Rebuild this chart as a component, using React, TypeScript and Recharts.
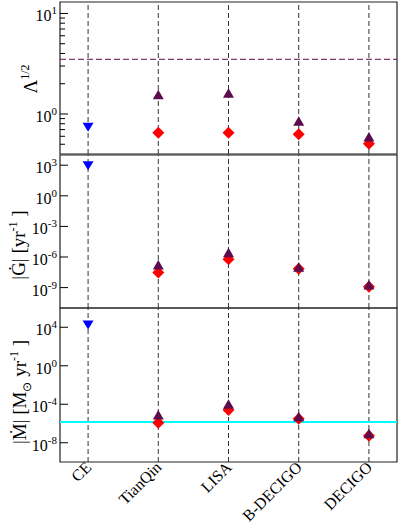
import type { ReactNode } from "react";
import {
	ScatterChart,
	Scatter,
	XAxis,
	YAxis,
	ReferenceLine,
	ReferenceArea,
} from "recharts";

const detectors = ["CE", "TianQin", "LISA", "B-DECIGO", "DECIGO"];

// Lambda^(1/2)
const lambdaCE = [0.74, null, null, null, null];
const lambdaTri = [null, 1.55, 1.61, 0.845, 0.59];
const lambdaDia = [null, 0.65, 0.65, 0.63, 0.505];
const lambdaBound = 3.5;
const lambdaTicks = [0.5, 0.6, 0.7, 0.8, 0.9, 1, 2, 3, 4, 5, 6, 7, 8, 9, 10];

// |Gdot| [yr^-1]
const gdotCE = [900, null, null, null, null];
const gdotTri = [null, 1.6e-7, 2.6e-6, 1.0e-7, 1.8e-9];
const gdotDia = [null, 3.0e-8, 6.0e-7, 7.0e-8, 1.2e-9];
const gdotTicks = [1e-9, 1e-6, 1e-3, 1, 1e3];

// |Mdot| [Msun yr^-1]
const mdotCE = [1.7e4, null, null, null, null];
const mdotTri = [null, 7.7e-6, 1.0e-4, 5.0e-6, 8.7e-8];
const mdotDia = [null, 1.2e-6, 2.5e-5, 3.2e-6, 5.4e-8];
const mdotBound = 1.45e-6;
const mdotTicks = [1e-8, 1e-4, 1, 1e4];

const serif = "'Liberation Serif', 'Times New Roman', Times, serif";
const purple = "#5b0b4e";

const toPoints = (vals: (number | null)[]) =>
	vals.flatMap((v, i) => (v == null ? [] : [{ x: i, y: v }]));

const Diamond = (p: any) => (
	<polygon
		points={`${p.cx},${p.cy - 6} ${p.cx + 6},${p.cy} ${p.cx},${p.cy + 6} ${p.cx - 6},${p.cy}`}
		fill="#ff0000"
	/>
);
const TriUp = (p: any) => (
	<polygon
		points={`${p.cx},${p.cy - 5} ${p.cx + 5.5},${p.cy + 4.5} ${p.cx - 5.5},${p.cy + 4.5}`}
		fill={purple}
	/>
);
const TriDown = (p: any) => (
	<polygon
		points={`${p.cx - 5.5},${p.cy - 4.5} ${p.cx + 5.5},${p.cy - 4.5} ${p.cx},${p.cy + 4.5}`}
		fill="#0000ff"
	/>
);

const YTick = (props: any) => {
	const { x, y, payload, side } = props;
	const e = Math.log10(payload.value);
	const major = Math.abs(e - Math.round(e)) < 1e-6;
	const dir = side === "left" ? 1 : -1;
	return (
		<g>
			<line x1={x} x2={x + dir * (major ? 8 : 5)} y1={y} y2={y} stroke="#000" />
			{side === "left" && major && (
				<text
					x={x - 3}
					y={y + 8}
					textAnchor="end"
					style={{ fontFamily: serif, fontSize: 16 }}
					fill="#000"
				>
					10
					<tspan dy={-7} style={{ fontSize: 11 }}>
						{Math.round(e)}
					</tspan>
				</text>
			)}
		</g>
	);
};

const XTick = (props: any) => {
	const { x, y, payload } = props;
	return (
		<text
			x={x}
			y={y + 2}
			dy={6}
			transform={`rotate(-45 ${x} ${y + 2})`}
			textAnchor="end"
			style={{ fontFamily: serif, fontSize: 16 }}
			fill="#000"
		>
			{detectors[payload.value]}
		</text>
	);
};

const Title = ({ x, y, children }: { x: number; y: number; children: ReactNode }) => (
	<text
		x={x}
		y={y}
		transform={`rotate(-90 ${x} ${y})`}
		textAnchor="middle"
		style={{ fontFamily: serif, fontSize: 19 }}
		fill="#000"
	>
		{children}
	</text>
);

type PanelProps = {
	top: number;
	height: number;
	bottomAxis?: boolean;
	domain: [number, number];
	ticks: number[];
	ce: (number | null)[];
	tri: (number | null)[];
	dia: (number | null)[];
	title: ReactNode;
	hLine?: ReactNode;
};

const Panel = ({ top, height, bottomAxis, domain, ticks, ce, tri, dia, title, hLine }: PanelProps) => (
	<div style={{ position: "absolute", left: 0, top }}>
		<ScatterChart
			width={399}
			height={height}
			margin={{ top: 2, right: 2, bottom: bottomAxis ? 0 : 2, left: 0 }}
		>
			<XAxis
				type="number"
				dataKey="x"
				domain={[-0.4, 4.4]}
				ticks={[0, 1, 2, 3, 4]}
				allowDataOverflow
				hide={!bottomAxis}
				height={61}
				axisLine={false}
				tickLine={false}
				tickSize={0}
				tickMargin={0}
				interval={0}
				tick={<XTick />}
			/>
			<YAxis
				yAxisId="l"
				type="number"
				dataKey="y"
				scale="log"
				domain={domain}
				ticks={ticks}
				allowDataOverflow
				width={60}
				axisLine={false}
				tickLine={false}
				tickSize={0}
				tickMargin={0}
				interval={0}
				tick={<YTick side="left" />}
			/>
			<YAxis
				yAxisId="r"
				orientation="right"
				type="number"
				scale="log"
				domain={domain}
				ticks={ticks}
				allowDataOverflow
				width={0}
				axisLine={false}
				tickLine={false}
				tickSize={0}
				tickMargin={0}
				interval={0}
				tick={<YTick side="right" />}
			/>
			{detectors.map((d, i) => (
				<ReferenceLine key={d} yAxisId="l" x={i} stroke="#333" strokeDasharray="5 3" />
			))}
			{hLine}
			<ReferenceArea
				yAxisId="l"
				x1={-0.4}
				x2={4.4}
				y1={domain[0]}
				y2={domain[1]}
				fill="none"
				fillOpacity={0}
				stroke="#222"
				strokeWidth={1.2}
			/>
			<Scatter yAxisId="l" data={toPoints(dia)} shape={Diamond} isAnimationActive={false} />
			<Scatter yAxisId="l" data={toPoints(tri)} shape={TriUp} isAnimationActive={false} />
			<Scatter yAxisId="l" data={toPoints(ce)} shape={TriDown} isAnimationActive={false} />
		</ScatterChart>
		<svg
			width={60}
			height={height}
			style={{ position: "absolute", left: 0, top: 0, pointerEvents: "none" }}
		>
			{title}
		</svg>
	</div>
);

export default function App() {
	return (
		<div style={{ position: "absolute", left: 0, top: 0, width: 399, height: 523, background: "#fff" }}>
			<Panel
				top={0}
				height={156}
				domain={[0.4, 13]}
				ticks={lambdaTicks}
				ce={lambdaCE}
				tri={lambdaTri}
				dia={lambdaDia}
				title={
					<Title x={37} y={79}>
						Λ
						<tspan dy={-8} style={{ fontSize: 12 }}>
							1/2
						</tspan>
					</Title>
				}
				hLine={
					<ReferenceLine yAxisId="l" y={lambdaBound} stroke={purple} strokeDasharray="6 3" />
				}
			/>
			<Panel
				top={153}
				height={157}
				domain={[1e-11, 1e4]}
				ticks={gdotTicks}
				ce={gdotCE}
				tri={gdotTri}
				dia={gdotDia}
				title={
					<Title x={25} y={92}>
						|Ġ| [yr
						<tspan dy={-8} style={{ fontSize: 12 }}>
							-1
						</tspan>
						<tspan dy={8}> ]</tspan>
					</Title>
				}
			/>
			<Panel
				top={306}
				height={217}
				bottomAxis
				domain={[1e-10, 1e6]}
				ticks={mdotTicks}
				ce={mdotCE}
				tri={mdotTri}
				dia={mdotDia}
				title={
					<Title x={26} y={86}>
						|Ṁ| [M
						<tspan dy={5} style={{ fontSize: 12 }}>
							⊙
						</tspan>
						<tspan dy={-5}> yr</tspan>
						<tspan dy={-8} style={{ fontSize: 12 }}>
							-1
						</tspan>
						<tspan dy={8}> ]</tspan>
					</Title>
				}
				hLine={<ReferenceLine yAxisId="l" y={mdotBound} stroke="#00ffff" strokeWidth={2} />}
			/>
		</div>
	);
}
